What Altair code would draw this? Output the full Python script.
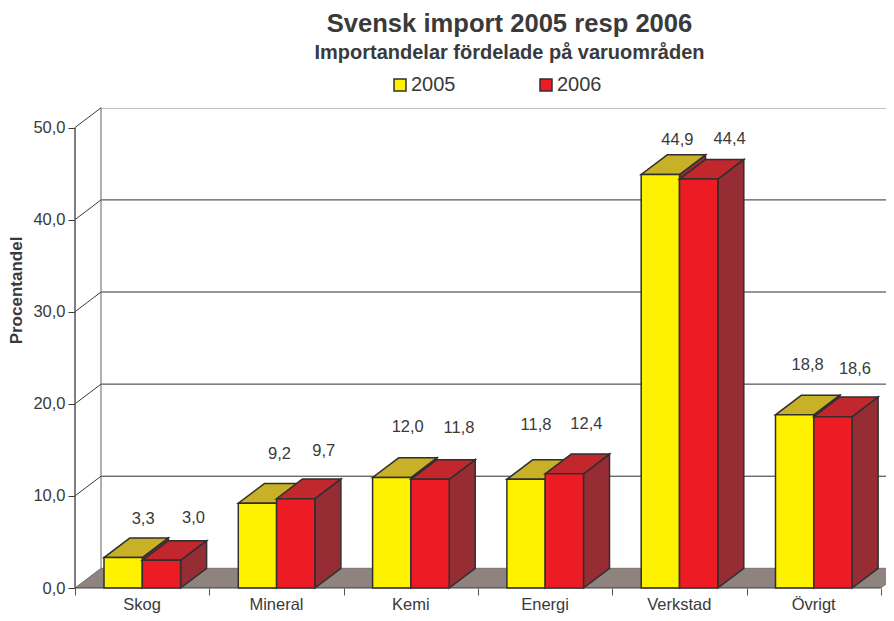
import altair as alt
import pandas as pd

CATEGORIES = ["Skog", "Mineral", "Kemi", "Energi", "Verkstad", "Övrigt"]
VALUES_2005 = [3.3, 9.2, 12.0, 11.8, 44.9, 18.8]
VALUES_2006 = [3.0, 9.7, 11.8, 12.4, 44.4, 18.6]
YEARS = ["2005", "2006"]
Y_TICKS = [0, 10, 20, 30, 40, 50]

# label placement relative to each bar's front centre (pixels right, pixels up)
NUDGE_X_2005 = [20, 22, 16, 10, 17, 13]
NUDGE_X_2006 = [32, 28, 29, 22, 31, 22]
NUDGE_UP_2005 = [41, 51, 52, 56, 36, 52]
NUDGE_UP_2006 = [44, 50, 53, 52, 42, 50]

FONT = "Liberation Sans"
INK = "#3a3a3a"
EDGE = "#2f2f2f"
WALL = "#8c8280"
AXIS_TITLE = "Procentandel"

PX_X = 134.3
PX_Y = 480 / 52.12
W = 811
H = 480
DX = 26 / PX_X
DY = 19.7 / PX_Y
BAR_L = 29 / PX_X
BAR_W = 38.3 / PX_X
N = len(CATEGORIES)

x_scale = alt.Scale(domain=[0, W / PX_X], nice=False, zero=False)
y_scale = alt.Scale(domain=[0, H / PX_Y], nice=False, zero=False)


def X(field="x", **kw):
    return alt.X(field, type="quantitative", scale=x_scale, title=None, **kw)


def Y(field="y", **kw):
    return alt.Y(field, type="quantitative", scale=y_scale, title=AXIS_TITLE, **kw)


front, top, side, labels = [], [], [], []
for s, (year, vals) in enumerate(zip(YEARS, [VALUES_2005, VALUES_2006])):
    nx = [NUDGE_X_2005, NUDGE_X_2006][s]
    nu = [NUDGE_UP_2005, NUDGE_UP_2006][s]
    for i, v in enumerate(vals):
        x0 = i + BAR_L + s * BAR_W
        x1 = x0 + BAR_W
        key = f"{year}-{i}"
        front.append(dict(year=year, x=x0, x2=x1, y=0, y2=v))
        top.append(dict(year=year, key=key, y=v, x=x0, x2=x1))
        top.append(dict(year=year, key=key, y=v + DY, x=x0 + DX, x2=x1 + DX))
        side.append(dict(year=year, key=key, x=x1, y=v, y2=0))
        side.append(dict(year=year, key=key, x=x1 + DX, y=v + DY, y2=DY))
        labels.append(dict(year=year, x=(x0 + x1) / 2 + nx[i] / PX_X, y=v + nu[i] / PX_Y,
                           text=f"{v:.1f}".replace(".", ",")))
front, top, side, labels = map(pd.DataFrame, (front, top, side, labels))

floor = pd.DataFrame([dict(y=0, x=0, x2=N), dict(y=DY, x=DX, x2=N + DX)])
grid = pd.DataFrame([dict(y=v + DY, x=DX, x2=W / PX_X) for v in Y_TICKS[1:-1]])
wall_top = pd.DataFrame([dict(y=Y_TICKS[-1] + DY, x=DX, x2=W / PX_X)])
wall_left = pd.DataFrame([dict(x=DX, y=DY, y2=Y_TICKS[-1] + DY)])
diag = pd.DataFrame(
    [r for v in Y_TICKS[1:] for r in (dict(t=v, x=0, y=v), dict(t=v, x=DX, y=v + DY))]
)
axis_y = pd.DataFrame([dict(x=0, y=0, y2=Y_TICKS[-1])])
axis_x = pd.DataFrame([dict(y=0, x=0, x2=N)])
cats = pd.DataFrame(dict(x=[i + 0.5 for i in range(N)], y=0, text=CATEGORIES))
ticks = pd.DataFrame(dict(x=[0.0], y=[0.0]))

color = alt.Color(
    "year:N",
    scale=alt.Scale(domain=YEARS, range=["#FFF200", "#ED1C24"]),
    legend=alt.Legend(
        title=None,
        orient="none",
        legendX=315,
        legendY=-33,
        direction="horizontal",
        symbolType="square",
        symbolSize=144,
        symbolStrokeColor=EDGE,
        symbolStrokeWidth=1.5,
        labelFont=FONT,
        labelFontSize=20,
        labelColor=INK,
        labelOffset=1,
        columnPadding=80,
    ),
)

base_axes = (
    alt.Chart(ticks)
    .mark_point(opacity=0)
    .encode(
        x=X(
            axis=alt.Axis(
                values=list(range(N + 1)),
                labels=False,
                domain=False,
                grid=False,
                tickColor="#555555",
                tickSize=7,
                tickWidth=1,
            )
        ),
        y=Y(
            axis=alt.Axis(
                values=Y_TICKS,
                labelExpr="replace(format(datum.value, '.1f'), '.', ',')",
                domain=False,
                grid=False,
                tickColor=INK,
                tickSize=7,
                tickWidth=1,
                labelFont=FONT,
                labelFontSize=16.5,
                labelColor=INK,
                labelPadding=3,
                titleFont=FONT,
                titleFontSize=17,
                titleFontWeight="bold",
                titleColor=INK,
                titleX=-50,
                titleY=182,
            ),
        ),
    )
)

floor_l = (
    alt.Chart(floor)
    .mark_area(orient="horizontal", color="#8F8380", stroke="#7d716e", strokeWidth=1, clip=True)
    .encode(y=Y(), x=X(), x2="x2:Q")
)
grid_l = (
    alt.Chart(grid)
    .mark_rule(color=EDGE, strokeWidth=1, clip=True)
    .encode(y=Y(), x=X(), x2="x2:Q")
)
wall_top_l = (
    alt.Chart(wall_top)
    .mark_rule(color=WALL, strokeWidth=1.3, clip=True)
    .encode(y=Y(), x=X(), x2="x2:Q")
)
wall_left_l = (
    alt.Chart(wall_left)
    .mark_rule(color=WALL, strokeWidth=1.3)
    .encode(x=X(), y=Y(), y2="y2:Q")
)
diag_l = (
    alt.Chart(diag)
    .mark_line(color=INK, strokeWidth=1)
    .encode(x=X(), y=Y(), detail="t:N")
)
axis_y_l = (
    alt.Chart(axis_y)
    .mark_rule(color="#555555", strokeWidth=1.5)
    .encode(x=X(), y=Y(), y2="y2:Q")
)


def series_layers(year, top_fill, side_fill):
    t = top[top.year == year]
    d = side[side.year == year]
    f = front[front.year == year]
    return [
        alt.Chart(d)
        .mark_area(orient="vertical", color=side_fill, stroke=EDGE, strokeWidth=1.5)
        .encode(x=X(), y=Y(), y2="y2:Q", detail="key:N"),
        alt.Chart(t)
        .mark_area(orient="horizontal", color=top_fill, stroke=EDGE, strokeWidth=1.5)
        .encode(y=Y(), x=X(), x2="x2:Q", detail="key:N"),
        alt.Chart(f)
        .mark_rect(stroke=EDGE, strokeWidth=1.5)
        .encode(x=X(), x2="x2:Q", y=Y(), y2="y2:Q", color=color),
    ]


axis_x_l = (
    alt.Chart(axis_x)
    .mark_rule(color="#444444", strokeWidth=1.2)
    .encode(y=Y(), x=X(), x2="x2:Q")
)
label_l = (
    alt.Chart(labels)
    .mark_text(font=FONT, fontSize=16.5, color=INK, baseline="middle", align="center", dy=2)
    .encode(x=X(), y=Y(), text="text:N")
)
cat_l = (
    alt.Chart(cats)
    .mark_text(font=FONT, fontSize=16.5, color=INK, baseline="middle", align="center", dy=17)
    .encode(x=X(), y=Y(), text="text:N")
)

chart = alt.layer(
    base_axes,
    floor_l,
    grid_l,
    wall_top_l,
    wall_left_l,
    diag_l,
    axis_y_l,
    *series_layers("2005", "#C8B126", "#962D35"),
    *series_layers("2006", "#C1272D", "#962D35"),
    axis_x_l,
    label_l,
    cat_l,
).properties(
    width=W,
    height=H,
    autosize=alt.AutoSizeParams(type="none"),
    padding={"left": 67, "top": 100, "right": 0, "bottom": 25},
    title=alt.TitleParams(
        text="Svensk import 2005 resp 2006",
        subtitle="Importandelar fördelade på varuområden",
        anchor="middle",
        dx=29,
        offset=12,
        font=FONT,
        fontSize=25.6,
        fontWeight="bold",
        color=INK,
        subtitleFont=FONT,
        subtitleFontSize=20,
        subtitleFontWeight="bold",
        subtitleColor=INK,
        subtitlePadding=5,
    ),
).configure_view(stroke=None)

chart.save("out.html", embed_options={"renderer": "svg", "actions": False})
